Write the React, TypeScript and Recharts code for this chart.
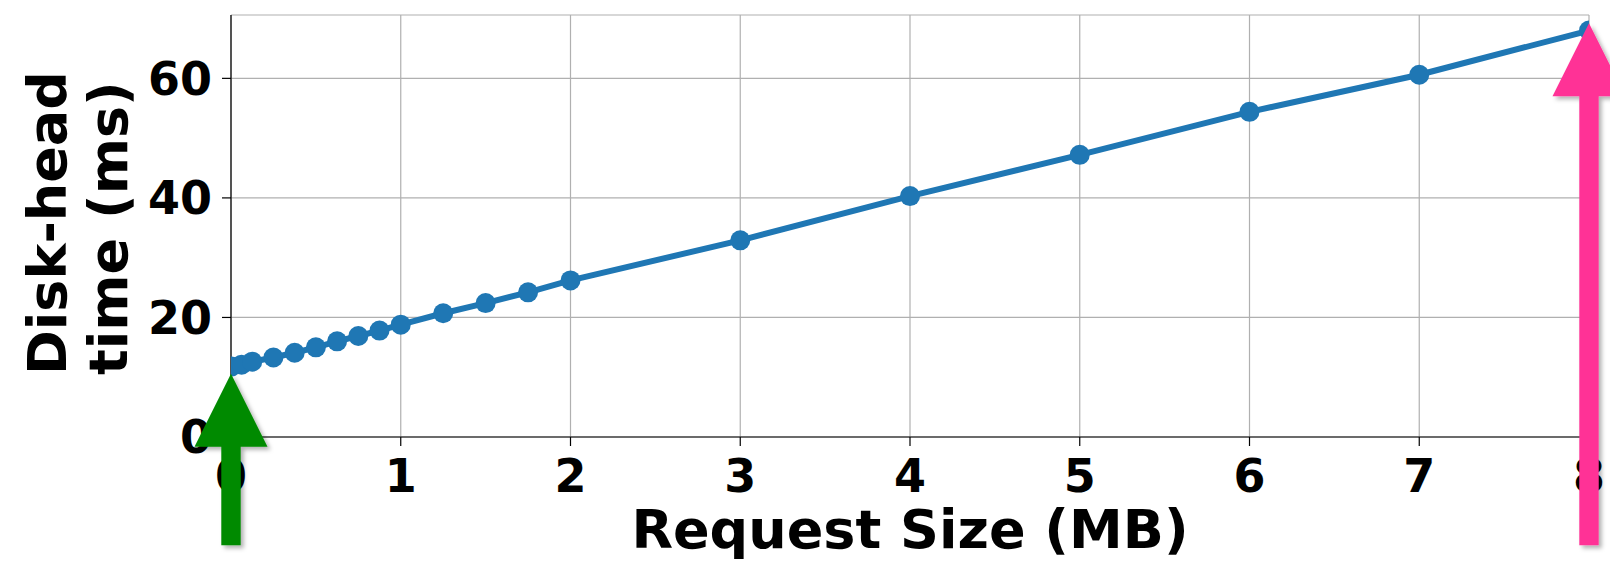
import {
  CartesianGrid,
  Line,
  LineChart,
  ReferenceLine,
  XAxis,
  YAxis,
} from "recharts";

// request size in MB and the measured disk-head time in ms
const sizesMB = [
  0.004, 0.0625, 0.125, 0.25, 0.375, 0.5, 0.625, 0.75, 0.875, 1, 1.25, 1.5,
  1.75, 2, 3, 4, 5, 6, 7, 8,
];
const headTimeMs = [
  11.8, 12.1, 12.6, 13.3, 14.1, 15.0, 16.0, 16.9, 17.8, 18.8, 20.7, 22.4,
  24.2, 26.2, 32.9, 40.3, 47.2, 54.4, 60.6, 68.0,
];
const xTicks = [0, 1, 2, 3, 4, 5, 6, 7, 8];
const yTicks = [0, 20, 40, 60];

// annotation arrows: x position, tip value, tail value
const smallArrow = { x: 0, tip: 10.6, tail: -18.1 };
const largeArrow = { x: 8, tip: 69.2, tail: -18.1 };

const data = sizesMB.map((x, i) => ({ x, y: headTimeMs[i] }));

const FONT = "'DejaVu Sans', sans-serif";
const TICK = { fill: "#000", fontSize: 46, fontWeight: "bold", fontFamily: FONT };
const BLUE = "#1f77b4";

function arrowShape(color: string, id: string) {
  return (props: any) => {
    const { x1, y1, y2 } = props;
    const tipY = Math.min(y1, y2);
    const tailY = Math.max(y1, y2);
    const head = 73;
    const hw = 36.5;
    const sw = 9.7;
    const pts = [
      [x1, tipY],
      [x1 + hw, tipY + head],
      [x1 + sw, tipY + head],
      [x1 + sw, tailY],
      [x1 - sw, tailY],
      [x1 - sw, tipY + head],
      [x1 - hw, tipY + head],
    ]
      .map((p) => p.join(","))
      .join(" ");
    return (
      <g>
        <defs>
          <filter id={id} x="-50%" y="-50%" width="200%" height="200%">
            <feDropShadow dx="3" dy="3" stdDeviation="2" floodColor="#000" floodOpacity="0.3" />
          </filter>
        </defs>
        <polygon points={pts} fill={color} filter={`url(#${id})`} />
      </g>
    );
  };
}

function YLabel() {
  const style = { fontSize: 54, fontWeight: "bold", fontFamily: FONT, fill: "#000" } as const;
  return (
    <g>
      <text transform="translate(66,375) rotate(-90)" textAnchor="start" style={style}>
        Disk-head
      </text>
      <text transform="translate(127,375) rotate(-90)" textAnchor="start" style={style}>
        time (ms)
      </text>
    </g>
  );
}

function XLabel(props: any) {
  const vb = props.viewBox || {};
  return (
    <text
      x={vb.x + vb.width / 2}
      y={548}
      textAnchor="middle"
      style={{ fontSize: 54, fontWeight: "bold", fontFamily: FONT, fill: "#000" }}
    >
      Request Size (MB)
    </text>
  );
}

export default function App() {
  return (
    <div style={{ position: "absolute", left: 0, top: 0, background: "#fff" }}>
      <LineChart
        width={1610}
        height={561}
        data={data}
        margin={{ top: 15, right: 21, bottom: 0, left: 0 }}
      >
        <CartesianGrid stroke="#b0b0b0" strokeWidth={1.2} />
        <XAxis
          type="number"
          dataKey="x"
          domain={[0, 8]}
          ticks={xTicks}
          allowDataOverflow
          height={124}
          tickSize={9}
          tickMargin={13}
          tick={TICK}
          axisLine={{ stroke: "#000", strokeWidth: 1.2 }}
          tickLine={{ stroke: "#000", strokeWidth: 1.2 }}
          label={{ content: XLabel }}
        />
        <XAxis
          xAxisId="top"
          orientation="top"
          type="number"
          domain={[0, 8]}
          height={0}
          tick={false}
          tickLine={false}
          axisLine={{ stroke: "#000", strokeWidth: 1.2 }}
        />
        <YAxis
          type="number"
          domain={[0, 70.6]}
          ticks={yTicks}
          allowDataOverflow
          width={231}
          tickSize={9}
          tickMargin={10}
          tick={TICK}
          axisLine={{ stroke: "#000", strokeWidth: 1.2 }}
          tickLine={{ stroke: "#000", strokeWidth: 1.2 }}
          label={{ content: YLabel }}
        />
        <YAxis
          yAxisId="right"
          orientation="right"
          type="number"
          domain={[0, 70.6]}
          width={0}
          tick={false}
          tickLine={false}
          axisLine={{ stroke: "#000", strokeWidth: 1.2 }}
        />
        <Line
          dataKey="y"
          stroke={BLUE}
          strokeWidth={6}
          dot={{ r: 10, fill: BLUE, stroke: "none" }}
          activeDot={false}
          isAnimationActive={false}
        />
        <ReferenceLine
          segment={[
            { x: smallArrow.x, y: smallArrow.tip },
            { x: smallArrow.x, y: smallArrow.tail },
          ]}
          ifOverflow="visible"
          zIndex={5000}
          shape={arrowShape("#008a00", "shadowGreen")}
        />
        <ReferenceLine
          segment={[
            { x: largeArrow.x, y: largeArrow.tip },
            { x: largeArrow.x, y: largeArrow.tail },
          ]}
          ifOverflow="visible"
          zIndex={5000}
          shape={arrowShape("#ff3396", "shadowPink")}
        />
      </LineChart>
    </div>
  );
}
